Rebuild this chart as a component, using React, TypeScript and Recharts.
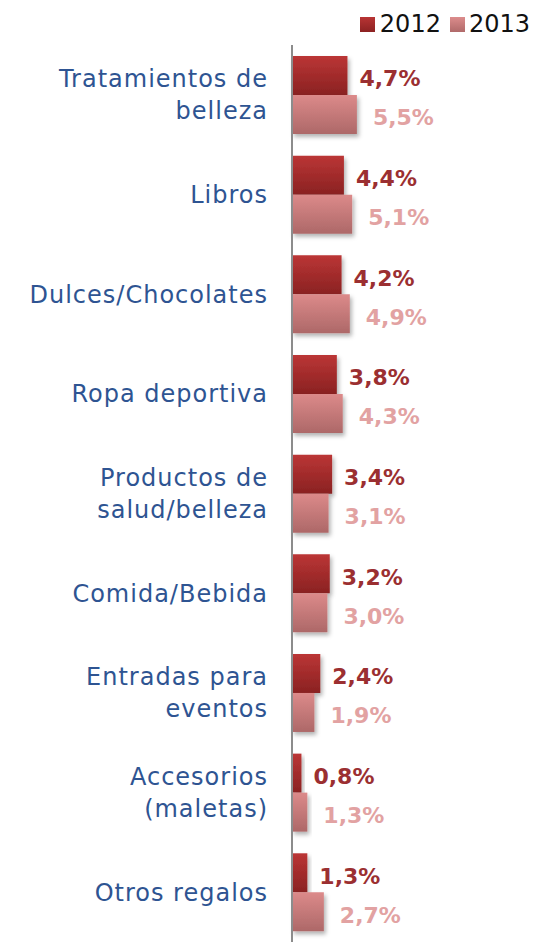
import React from 'react';
import { BarChart, Bar, XAxis, YAxis, LabelList } from 'recharts';

document.body.style.margin = '0';

// categories (line breaks as in the original)
const categories = [
  'Tratamientos de\nbelleza',
  'Libros',
  'Dulces/Chocolates',
  'Ropa deportiva',
  'Productos de\nsalud/belleza',
  'Comida/Bebida',
  'Entradas para\neventos',
  'Accesorios\n(maletas)',
  'Otros regalos',
];
const values2012 = [4.7, 4.4, 4.2, 3.8, 3.4, 3.2, 2.4, 0.8, 1.3];
const values2013 = [5.5, 5.1, 4.9, 4.3, 3.1, 3.0, 1.9, 1.3, 2.7];
const seriesNames = ['2012', '2013'];

const data = categories.map((name, i) => ({ name, y2012: values2012[i], y2013: values2013[i] }));

const FONT = '"DejaVu Sans", sans-serif';
const BLUE = '#2e5492';

const fmt = (v: any) => Number(v).toFixed(1).replace('.', ',') + '%';

const CategoryTick = (props: any) => {
  const { x, y, payload } = props;
  const lines = String(payload.value).split('\n');
  const lh = 32;
  const start = y - ((lines.length - 1) * lh) / 2;
  return (
    <text x={x} textAnchor="end" fill={BLUE} fontFamily={FONT} fontSize={24} letterSpacing={1}>
      {lines.map((l, i) => (
        <tspan key={i} x={x} y={start + i * lh} dy="0.35em">{l}</tspan>
      ))}
    </text>
  );
};

const LegendBox = () => (
  <div
    style={{
      position: 'absolute', top: 10, right: 11, display: 'flex', alignItems: 'center',
      fontFamily: FONT, fontSize: 24, color: '#111', lineHeight: '28px',
    }}
  >
    <span style={{ width: 15, height: 15, background: 'linear-gradient(#b83434, #8c2222)', marginRight: 5 }} />
    <span style={{ marginRight: 9 }}>{seriesNames[0]}</span>
    <span style={{ width: 15, height: 15, background: 'linear-gradient(#dc8c8c, #b06a6a)', marginRight: 4 }} />
    <span>{seriesNames[1]}</span>
  </div>
);

export default function App() {
  return (
    <div style={{ position: 'relative', width: 541, height: 952 }}>
      <BarChart
        width={541}
        height={952}
        data={data}
        layout="vertical"
        margin={{ top: 45, right: 13, bottom: 10, left: 0 }}
        barCategoryGap="11%"
        barGap={0}
      >
        <defs>
          <linearGradient id="g2012" x1="0" y1="0" x2="0" y2="1">
            <stop offset="0%" stopColor="#bb3535" />
            <stop offset="100%" stopColor="#8a2222" />
          </linearGradient>
          <linearGradient id="g2013" x1="0" y1="0" x2="0" y2="1">
            <stop offset="0%" stopColor="#dc8a8a" />
            <stop offset="100%" stopColor="#ad6868" />
          </linearGradient>
          <filter id="shadow" x="-20%" y="-20%" width="150%" height="150%">
            <feDropShadow dx="2" dy="3" stdDeviation="2" floodColor="#000" floodOpacity="0.3" />
          </filter>
        </defs>
        <XAxis type="number" domain={[0, 20]} hide />
        <YAxis
          type="category"
          dataKey="name"
          width={292}
          tickLine={false}
          tickSize={0}
          tickMargin={24}
          axisLine={{ stroke: '#8c8c8c', strokeWidth: 2 }}
          tick={<CategoryTick />}
          interval={0}
        />
        <Bar dataKey="y2012" name={seriesNames[0]} fill="url(#g2012)" filter="url(#shadow)" isAnimationActive={false}>
          <LabelList
            dataKey="y2012"
            position="right"
            offset={12}
            formatter={fmt}
            fill="#9b2f31"
            fontFamily={FONT}
            fontSize={22}
            fontWeight="bold"
            dy={3}
          />
        </Bar>
        <Bar dataKey="y2013" name={seriesNames[1]} fill="url(#g2013)" filter="url(#shadow)" isAnimationActive={false}>
          <LabelList
            dataKey="y2013"
            position="right"
            offset={16}
            formatter={fmt}
            fill="#e2a2a2"
            fontFamily={FONT}
            fontSize={22}
            fontWeight="bold"
            dy={3}
          />
        </Bar>
      </BarChart>
      <LegendBox />
    </div>
  );
}
